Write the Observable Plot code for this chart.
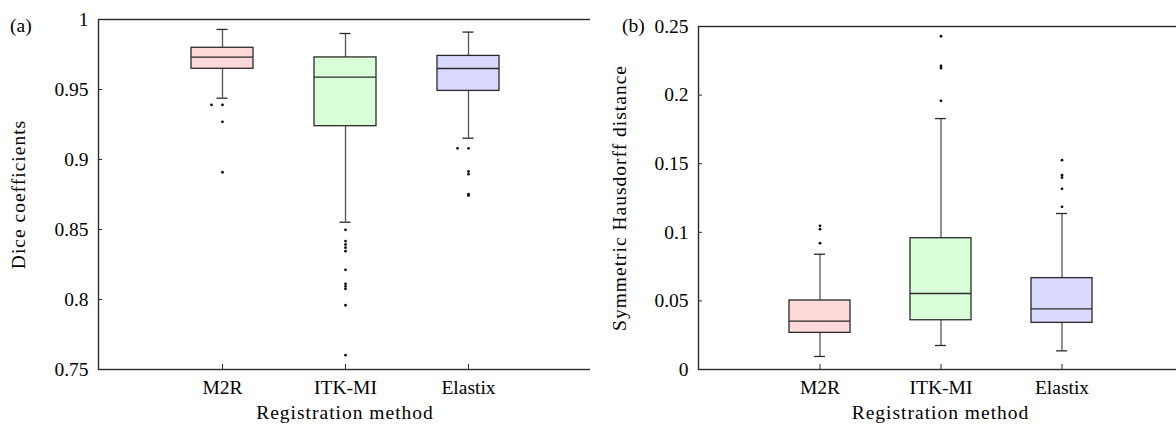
<!DOCTYPE html>
<html>
<head>
<meta charset="utf-8">
<script src="https://cdn.jsdelivr.net/npm/d3@7"></script>
<script src="https://cdn.jsdelivr.net/npm/@observablehq/plot@0.6"></script>
<style>
  html, body { margin: 0; padding: 0; background: #fff; width: 1176px; height: 425px; overflow: hidden; }
  #wrap { position: relative; width: 1176px; height: 425px; overflow: hidden; font-family: "Liberation Serif", serif; }
  .panel { position: absolute; top: 0; width: 600px; }
  .panel svg { max-width: none !important; font-family: "Liberation Serif", serif !important; }
  .panel svg text { font-family: "Liberation Serif", serif !important; }
  .panel svg g[aria-label="x-axis label"] text,
  .panel svg g[aria-label="y-axis label"] text { letter-spacing: 1px; }
  .tag { position: absolute; font-size: 19.5px; line-height: 20px; color: #000; }
</style>
</head>
<body>
<div id="wrap">
  <div class="panel" id="left" style="left:0px"></div>
  <div class="panel" id="right" style="left:590px"></div>
  <div class="tag" style="left:10px; top:16px">(a)</div>
  <div class="tag" style="left:622px; top:16px">(b)</div>
</div>
<script>
// ---- data ----
const methods = ["M2R", "ITK-MI", "Elastix"];
const boxColors = ["#ffd9d9", "#d9ffd9", "#d9d9ff"];

// Dice coefficients (a)
const diceLow  = [0.9438, 0.8552, 0.9152];
const diceQ1   = [0.9648, 0.9238, 0.9490];
const diceMed  = [0.9731, 0.9588, 0.9650];
const diceQ3   = [0.9798, 0.9729, 0.9740];
const diceHigh = [0.9929, 0.9900, 0.9910];
const diceOutM2R = [0.939, 0.9269, 0.8909];
const diceOutITK = [0.8498, 0.8417, 0.8393, 0.8370, 0.8345, 0.8212, 0.8112, 0.8094, 0.8076, 0.7959, 0.7602];
const diceOutElastix = [0.908, 0.8915, 0.8895, 0.8752, 0.8742];
// outliers drawn slightly left of the box centre
const diceOutSideM2R = [0.939];
const diceOutSideElastix = [0.908];
const diceTicks = [0.75, 0.8, 0.85, 0.9, 0.95, 1];

// Symmetric Hausdorff distance (b)
const hdLow  = [0.0095, 0.0175, 0.0136];
const hdQ1   = [0.0267, 0.0359, 0.0340];
const hdMed  = [0.0352, 0.0554, 0.0442];
const hdQ3   = [0.0503, 0.0957, 0.0666];
const hdHigh = [0.0840, 0.1829, 0.1137];
const hdOutM2R = [0.1047, 0.1023, 0.0921];
const hdOutITK = [0.2429, 0.2213, 0.2196, 0.1958];
const hdOutElastix = [0.1526, 0.1416, 0.1399, 0.1317, 0.1186];
const hdTicks = [0, 0.05, 0.1, 0.15, 0.2, 0.25];

// ---- build tables ----
function statsTable(low, q1, med, q3, high) {
  return methods.map((m, i) => ({method: m, low: low[i], q1: q1[i], med: med[i], q3: q3[i], high: high[i]}));
}
function outTable(lists) {
  return lists.flatMap((vals, i) => vals.map(v => ({method: methods[i], v})));
}

const fmt = d3.format("~g");

function boxPlot({stats, outliers, sideOutliers, ticks, domain, yLabel, width, marginLeft, marginRight, marginTop, marginBottom, labelOffset, capInset}) {
  const height = 425;
  const innerW = width - marginLeft - marginRight;
  const innerH = height - marginTop - marginBottom;
  const dark = "#2a2a2a";
  const whisk = "#555";
  return Plot.plot({
    width, height, marginLeft, marginRight, marginTop, marginBottom,
    style: {fontFamily: "Liberation Serif", fontSize: "19.5px", color: "#000", background: "#fff", overflow: "visible", maxWidth: "none"},
    x: {type: "band", domain: methods, paddingInner: 0.5, paddingOuter: 0.75, label: null},
    y: {domain, label: null},
    color: {domain: methods, range: boxColors},
    marks: [
      // whiskers
      Plot.ruleX(stats, {x: "method", y1: "low", y2: "q1", stroke: whisk, strokeWidth: 1.3}),
      Plot.ruleX(stats, {x: "method", y1: "q3", y2: "high", stroke: whisk, strokeWidth: 1.3}),
      Plot.tickY(stats, {x: "method", y: "low", stroke: dark, strokeWidth: 1.3, inset: capInset}),
      Plot.tickY(stats, {x: "method", y: "high", stroke: dark, strokeWidth: 1.3, inset: capInset}),
      // boxes
      Plot.barY(stats, {x: "method", y1: "q1", y2: "q3", fill: "method", stroke: dark, strokeWidth: 1.3}),
      Plot.tickY(stats, {x: "method", y: "med", stroke: dark, strokeWidth: 1.3}),
      // outliers
      Plot.dot(outliers, {x: "method", y: "v", r: 1.4, fill: "#111", stroke: "none"}),
      Plot.dot(sideOutliers, {x: "method", y: "v", r: 1.4, fill: "#111", stroke: "none", dx: -11}),
      // inward ticks
      Plot.ruleY(ticks, {y: d => d, stroke: dark, strokeWidth: 1, insetRight: innerW - 4}),
      Plot.ruleX(methods, {x: d => d, stroke: dark, strokeWidth: 1, insetTop: innerH - 5}),
      // axes (labels only)
      Plot.axisY({ticks, tickSize: 0, tickPadding: 10, tickFormat: fmt, label: yLabel, labelAnchor: "center", labelArrow: "none", labelOffset}),
      Plot.axisX({tickSize: 0, tickPadding: 11, label: "Registration method", labelAnchor: "center", labelArrow: "none", labelOffset: 49}),
      Plot.frame({stroke: dark, strokeWidth: 1.4})
    ]
  });
}

const diceStats = statsTable(diceLow, diceQ1, diceMed, diceQ3, diceHigh);
const diceOut = outTable([diceOutM2R, diceOutITK, diceOutElastix]);
const diceSide = outTable([diceOutSideM2R, [], diceOutSideElastix]);

const hdStats = statsTable(hdLow, hdQ1, hdMed, hdQ3, hdHigh);
const hdOut = outTable([hdOutM2R, hdOutITK, hdOutElastix]);
const hdSide = outTable([[], [], []]);

document.getElementById("left").append(boxPlot({
  stats: diceStats, outliers: diceOut, sideOutliers: diceSide, ticks: diceTicks, domain: [0.75, 1],
  yLabel: "Dice coefficients", width: 595, marginLeft: 98, marginRight: 4, marginTop: 19, marginBottom: 56,
  labelOffset: 87, capInset: 25.5
}));

document.getElementById("right").append(boxPlot({
  stats: hdStats, outliers: hdOut, sideOutliers: hdSide, ticks: hdTicks, domain: [0, 0.25],
  yLabel: "Symmetric Hausdorff distance", width: 600, marginLeft: 108, marginRight: 8, marginTop: 26, marginBottom: 56,
  labelOffset: 86, capInset: 25
}));
</script>
</body>
</html>
